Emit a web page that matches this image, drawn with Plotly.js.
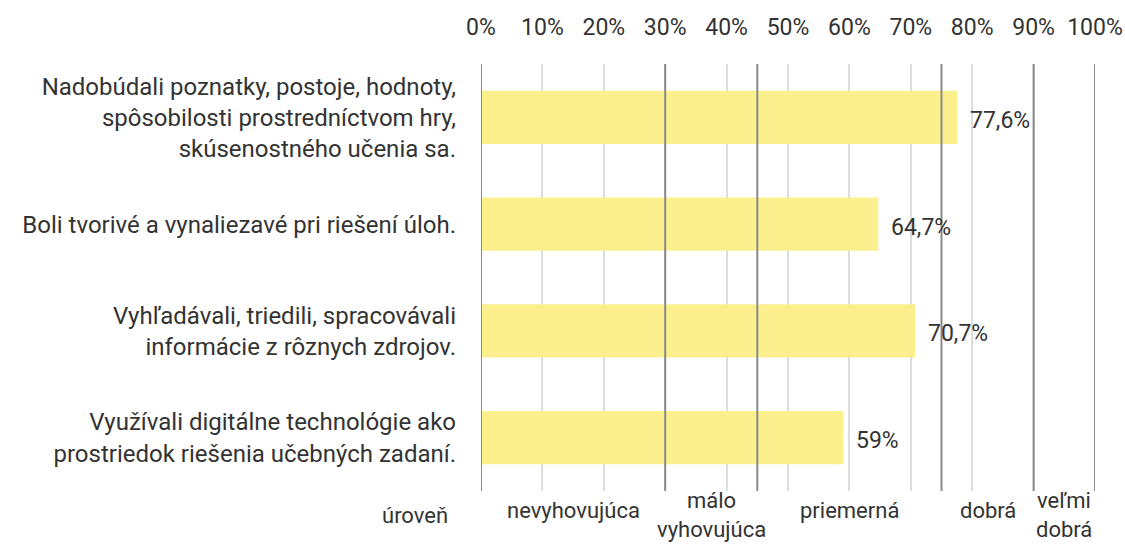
<!DOCTYPE html>
<html>
<head>
<meta charset="utf-8">
<script src="https://cdn.plot.ly/plotly-3.0.1.min.js"></script>
<style>html,body{margin:0;padding:0;background:#fff;}#chart{width:1125px;height:544px;}</style>
</head>
<body>
<div id="chart"></div>
<script>
const categories = [
  "Nadobúdali poznatky, postoje, hodnoty,<br>spôsobilosti prostredníctvom hry,<br>skúsenostného učenia sa.",
  "Boli tvorivé a vynaliezavé pri riešení úloh.",
  "Vyhľadávali, triedili, spracovávali<br>informácie z rôznych zdrojov.",
  "Využívali digitálne technológie ako<br>prostriedok riešenia učebných zadaní."
];
const values = [77.6, 64.7, 70.7, 59];
const valueLabels = ["77,6%", "64,7%", "70,7%", "59%"];
const levelBounds = [0, 30, 45, 75, 90, 100];
const levelNames = ["nevyhovujúca", "málo<br>vyhovujúca", "priemerná", "dobrá", "veľmi<br>dobrá"];
const levelTitle = "úroveň";

const FONT = "Roboto, sans-serif";
const TXT = "#333333";

const shapes = levelBounds.map(v => ({
  type: "line", xref: "x", yref: "paper", x0: v, x1: v, y0: 0, y1: 1,
  line: {color: "#8a8a8a", width: 2}, layer: "above"
}));

const annotations = [];
values.forEach((v, i) => {
  annotations.push({
    x: v, y: categories[i], xref: "x", yref: "y", text: valueLabels[i],
    showarrow: false, xanchor: "left", yanchor: "middle", xshift: 11, yshift: -3,
    font: {family: FONT, size: 23, color: TXT}
  });
});
for (let i = 0; i < levelNames.length; i++) {
  const mid = (levelBounds[i] + levelBounds[i + 1]) / 2;
  const lines = levelNames[i].split("<br>");
  const shifts = lines.length === 1 ? [-19] : [-9, -38];
  lines.forEach((ln, j) => {
    annotations.push({
      x: mid, y: 0, xref: "x", yref: "paper", text: ln,
      showarrow: false, xanchor: "center", yanchor: "middle",
      yshift: shifts[j],
      font: {family: FONT, size: 22, color: TXT}
    });
  });
}
annotations.push({
  x: 0, y: 0, xref: "paper", yref: "paper", text: levelTitle,
  showarrow: false, xanchor: "center", yanchor: "middle", xshift: -66, yshift: -24,
  font: {family: FONT, size: 22, color: TXT}
});

const trace = {
  type: "bar", orientation: "h", x: values, y: categories,
  marker: {color: "#FBEF8E"}, width: 0.5, hoverinfo: "none"
};

const layout = {
  width: 1125, height: 544,
  margin: {l: 481, r: 30, t: 64, b: 53},
  paper_bgcolor: "#fff", plot_bgcolor: "#fff",
  showlegend: false,
  font: {family: FONT, size: 24, color: TXT},
  xaxis: {
    side: "top", range: [0, 100], dtick: 10, tick0: 0, ticksuffix: "%",
    showgrid: true, gridcolor: "#dddddd", gridwidth: 2, zeroline: false,
    ticks: "outside", ticklen: 19, tickcolor: "rgba(0,0,0,0)",
    tickfont: {family: FONT, size: 23, color: TXT}, fixedrange: true
  },
  yaxis: {
    autorange: "reversed", showgrid: false, zeroline: false,
    ticks: "", ticklabelstandoff: 24,
    tickfont: {family: FONT, size: 24, color: TXT}, fixedrange: true
  },
  shapes: shapes,
  annotations: annotations,
  bargap: 0.5
};

Plotly.newPlot("chart", [trace], layout, {displayModeBar: false, staticPlot: true});
</script>
</body>
</html>
